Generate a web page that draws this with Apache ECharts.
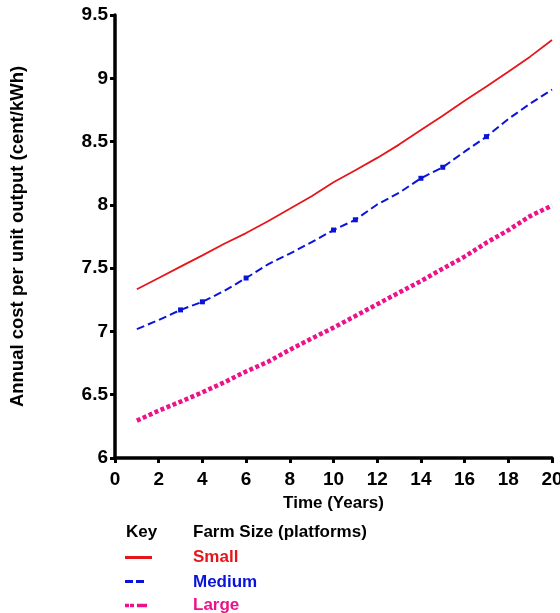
<!DOCTYPE html>
<html>
<head>
<meta charset="utf-8">
<script src="https://cdn.jsdelivr.net/npm/echarts@6/dist/echarts.min.js"></script>
<style>html,body{margin:0;padding:0;background:#fff}#c{width:560px;height:613px}</style>
</head>
<body>
<div id="c"></div>
<script>
const years = [1,2,3,4,5,6,7,8,9,10,11,12,13,14,15,16,17,18,19,20];
const small = [7.333,7.422,7.512,7.601,7.693,7.777,7.871,7.969,8.068,8.178,8.273,8.371,8.476,8.591,8.704,8.822,8.935,9.051,9.171,9.303];
const medium = [7.018,7.09,7.17,7.234,7.32,7.422,7.53,7.615,7.705,7.801,7.882,8.003,8.095,8.21,8.297,8.42,8.539,8.678,8.80,8.91];
const large = [6.295,6.374,6.445,6.519,6.598,6.684,6.760,6.855,6.944,7.03,7.122,7.215,7.307,7.398,7.496,7.591,7.701,7.80,7.911,7.995];
const mediumMarkedYears = [3,4,6,10,11,14,15,17];
const xTicks = [0,2,4,6,8,10,12,14,16,18,20];
const yTicks = [6,6.5,7,7.5,8,8.5,9,9.5];
const seriesNames = ['Small','Medium','Large'];

const RED = '#e5161b', BLUE = '#0a14d8', PINK = '#ec128b';
const FONT = '"Liberation Sans", Arial, sans-serif';

const pair = (ys) => years.map((x,i) => [x, ys[i]]);

const chart = echarts.init(document.getElementById('c'), null, {renderer:'canvas'});
const axisCommon = {
  axisLine:{show:true, lineStyle:{color:'#000', width:3.5}},
  axisTick:{show:true, length:5, lineStyle:{color:'#000', width:3}},
  splitLine:{show:false},
  axisLabel:{color:'#000', fontFamily:FONT, fontWeight:'bold', fontSize:19},
  nameTextStyle:{color:'#000', fontFamily:FONT, fontWeight:'bold', fontSize:17}
};
chart.setOption({
  animation:false,
  backgroundColor:'#fff',
  grid:{left:115, right:8, top:15, bottom:155, containLabel:false, outerBoundsMode:'none'},
  xAxis:Object.assign({}, axisCommon, {
    type:'value', min:xTicks[0], max:xTicks[xTicks.length-1], interval:2,
    name:'Time (Years)', nameLocation:'middle', nameGap:37,
    axisLabel:Object.assign({}, axisCommon.axisLabel, {margin:12})
  }),
  yAxis:Object.assign({}, axisCommon, {
    type:'value', min:yTicks[0], max:yTicks[yTicks.length-1], interval:0.5,
    name:'Annual cost per unit output (cent/kWh)', nameLocation:'middle', nameGap:88,
    nameTextStyle:Object.assign({}, axisCommon.nameTextStyle, {fontSize:18.5}),
    axisLabel:Object.assign({}, axisCommon.axisLabel, {margin:7})
  }),
  series:[
    {name:seriesNames[0], type:'line', data:pair(small), showSymbol:false, symbol:'none',
     lineStyle:{color:RED, width:1.8}},
    {name:seriesNames[1], type:'line', data:pair(medium), symbol:'rect',
     symbolSize:(v) => mediumMarkedYears.includes(v[0]) ? 5 : 0,
     itemStyle:{color:BLUE}, lineStyle:{color:BLUE, width:2, type:[8,4]}},
    {name:seriesNames[2], type:'line', data:pair(large), showSymbol:false, symbol:'none',
     lineStyle:{color:PINK, width:4.5, type:[4,2.5]}}
  ],
  graphic:[
    {type:'text', left:126, top:524, style:{text:'Key', font:'bold 17px '+FONT, fill:'#000'}},
    {type:'text', left:193, top:524, style:{text:'Farm Size (platforms)', font:'bold 17px '+FONT, fill:'#000'}},
    {type:'line', shape:{x1:125,y1:557.5,x2:152,y2:557.5}, style:{stroke:RED, lineWidth:3}},
    {type:'line', shape:{x1:125,y1:581.5,x2:145,y2:581.5}, style:{stroke:BLUE, lineWidth:3, lineDash:[8,3]}},
    {type:'line', shape:{x1:125,y1:605.5,x2:147,y2:605.5}, style:{stroke:PINK, lineWidth:3.5, lineDash:[4,1,4,3,10,0]}},
    {type:'text', left:193, top:549, style:{text:seriesNames[0], font:'bold 17px '+FONT, fill:RED}},
    {type:'text', left:193, top:574, style:{text:seriesNames[1], font:'bold 17px '+FONT, fill:BLUE}},
    {type:'text', left:193, top:597, style:{text:seriesNames[2], font:'bold 17px '+FONT, fill:PINK}}
  ]
});
</script>
</body>
</html>
